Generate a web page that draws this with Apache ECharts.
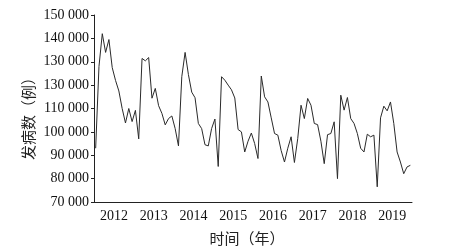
<!DOCTYPE html>
<html>
<head>
<meta charset="utf-8">
<script src="https://cdn.jsdelivr.net/npm/echarts@6/dist/echarts.min.js"></script>
<style>
html,body{margin:0;padding:0;background:#fff;}
#chart{width:464px;height:252px;}
</style>
</head>
<body>
<div id="chart"></div>
<script>
const years = ['2012','2013','2014','2015','2016','2017','2018','2019'];
const yTickLabels = ['70 000','80 000','90 000','100 000','110 000','130 000','130 000','140 000','150 000'];
const yAxisTitle = '发病数（例）';
const xAxisTitle = '时间（年）';

const cases2012 = [93000,128000,142000,134000,139500,127500,122000,117500,110000,103800,110000,104400];
const cases2013 = [109200,97000,131400,130400,131800,114400,118600,111200,107900,103000,105700,106800];
const cases2014 = [101400,94000,123600,134000,124500,117000,114600,103600,101400,94500,94000,101400];
const cases2015 = [105500,85200,123600,122100,120000,118000,114500,101000,100000,91400,96000,99500];
const cases2016 = [95000,88600,123900,115000,112800,106000,99300,98600,92000,87100,93000,97900];
const cases2017 = [86900,97100,111400,105700,114300,111400,103600,103100,96000,86400,98800,99300];
const cases2018 = [104300,80000,115700,109300,114700,105700,103600,99300,93000,91400,99000,97900];
const cases2019 = [98600,76500,106000,111000,109000,112800,103600,91400,87100,82100,85000,85700];

const yearly = [cases2012,cases2013,cases2014,cases2015,cases2016,cases2017,cases2018,cases2019];
const months = [];
const cases = [];
years.forEach(function(y, yi){
  yearly[yi].forEach(function(v, mi){
    months.push(y + '-' + (mi + 1));
    cases.push(v);
  });
});

const chart = echarts.init(document.getElementById('chart'), null, {renderer:'canvas'});
const serif = 'Liberation Serif';
const cjk = 'Noto Sans CJK SC';
chart.setOption({
  backgroundColor:'#fff',
  animation:false,
  grid:{left:94,right:52,top:15,bottom:50},
  xAxis:[
    {type:'category',data:months,boundaryGap:true,
     axisLine:{lineStyle:{color:'#222',width:1}},
     axisTick:{inside:true,length:2,interval:0,lineStyle:{color:'#555',width:1}},
     axisLabel:{show:false},splitLine:{show:false}},
    {type:'category',data:years,boundaryGap:true,position:'bottom',
     axisLine:{show:false},
     axisTick:{inside:true,length:5,lineStyle:{color:'#222',width:1}},
     axisLabel:{fontFamily:serif,fontSize:14,color:'#111',margin:7},
     splitLine:{show:false}}
  ],
  yAxis:{type:'value',min:70000,max:150000,interval:10000,
    axisLine:{show:true,lineStyle:{color:'#222',width:1}},
    axisTick:{show:true,inside:false,length:3,lineStyle:{color:'#222'}},
    splitLine:{show:false},
    axisLabel:{fontFamily:serif,fontSize:14,color:'#111',margin:5,
      formatter:function(v){return yTickLabels[Math.round((v-70000)/10000)];}}
  },
  graphic:[
    {type:'text',x:28,y:115,rotation:Math.PI/2,
     style:{text:yAxisTitle,font:'15px "'+cjk+'"',fill:'#222',align:'center',verticalAlign:'middle'}},
    {type:'text',x:247,y:238,
     style:{text:xAxisTitle,font:'15px "'+cjk+'"',fill:'#222',align:'center',verticalAlign:'middle'}}
  ],
  series:[{type:'line',data:cases,xAxisIndex:0,symbol:'none',
    lineStyle:{color:'#2a2a2a',width:1}}]
});
</script>
</body>
</html>
